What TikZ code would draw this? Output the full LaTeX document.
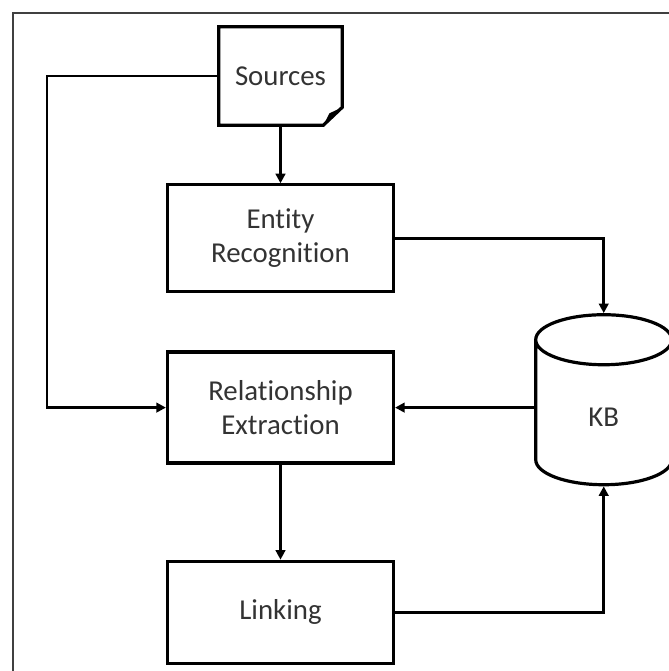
\documentclass[tikz,border=0pt]{standalone}
\usepackage{fontspec}
\setmainfont{Carlito}[Ligatures=NoCommon]
\usetikzlibrary{positioning,shapes.geometric,arrows.meta}

\begin{document}
\begin{tikzpicture}[
    x = 0.25mm, y = 0.25mm,
    >={Triangle[length=2.4mm, width=2.4mm]},
    box/.style = {draw, line width=0.8mm, minimum width=56.5mm, align=center,
                  text=black!80, font=\fontsize{20.5}{24}\selectfont},
    doc/.style = {minimum width=30.75mm, minimum height=24.5mm,
                  text=black!80, font=\fontsize{20.5}{24}\selectfont},
    db/.style  = {draw, line width=0.8mm, cylinder, shape border rotate=90, aspect=1.25,
                  minimum width=34mm, minimum height=42.5mm,
                  text=black!80, font=\fontsize{20.5}{24}\selectfont},
    link/.style = {line width=0.65mm, ->}
]

\useasboundingbox (0,0) rectangle (669,-671);

% Frame
\draw[black!75, line width=0.35mm] (13,-671) -- (13,-13) -- (669,-13);

% Nodes
\node[doc] (src) at (280.5,-76) {Sources};
\node[box, minimum height=26.75mm] (ent) [below=14.5mm of src] {Entity\\Recognition};
\node[box, minimum height=27.75mm] (rel) [below=14.25mm of ent] {Relationship\\Extraction};
\node[box, minimum height=25.5mm]  (lnk) [below=23.75mm of rel] {Linking};
\node[db] (kb) [right=34.75mm of rel, yshift=-2.5mm] {KB};

% Document outline with folded corner
\draw[line width=0.8mm, line join=miter]
    (src.north west) -- (src.north east) -- ([yshift=4.5mm]src.south east)
    -- ([xshift=-4.75mm]src.south east) -- (src.south west) -- cycle;
\fill ([yshift=4.5mm]src.south east) -- ([xshift=-3.2mm, yshift=3mm]src.south east)
    -- ([xshift=-4.75mm]src.south east) -- cycle;

% Connections
\coordinate (bend) at (47,-76);
\draw[link] (src.west) -- (bend) |- (rel.west);
\draw[link] (src) -- (ent);
\draw[link] (ent.east) -| (kb.north);
\draw[link] (kb.west |- rel.east) -- (rel.east);
\draw[link] (rel) -- (lnk);
\draw[link] (lnk.east) -| (kb.south);

\end{tikzpicture}
\end{document}
